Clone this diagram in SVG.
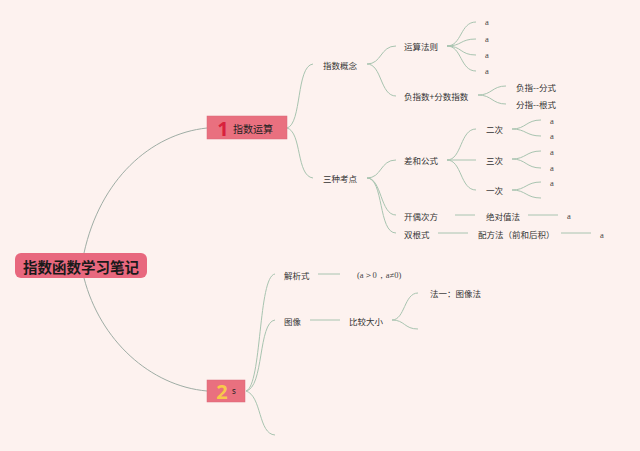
<svg xmlns="http://www.w3.org/2000/svg" width="640" height="451" viewBox="0 0 640 451">
<style>
.t{font-family:"Noto Sans CJK SC","Noto Sans",sans-serif;font-size:8.5px;fill:#333;dominant-baseline:central}
.s{font-family:"Liberation Serif",serif;font-size:8.5px;fill:#444;dominant-baseline:central}
.c{fill:none;stroke:#a8c4b0;stroke-width:1}
.r{fill:none;stroke:#9fada5;stroke-width:1}
</style>
<rect width="640" height="451" fill="#fdf2ef"/>
<g id="connectors">
<path class="r" d="M84,253 C100,180 150,134 207,128"/>
<path class="r" d="M84,278 C100,340 150,386 207,391"/>
<path class="c" d="M287,128 C302,124 296,66 313,64"/>
<path class="c" d="M287,128 C302,132 296,176 313,178"/>
<path class="c" d="M367,64 C382,64 380,46 396,46"/>
<path class="c" d="M367,64 C382,64 380,96 396,96"/>
<path class="c" d="M447,46 C462,46 460,22 476,22"/>
<path class="c" d="M447,46 C462,46 460,39 476,39"/>
<path class="c" d="M447,46 C462,46 460,55 476,55"/>
<path class="c" d="M447,46 C462,46 460,71 476,71"/>
<path class="c" d="M478,95 C492,95 492,86 506,86"/>
<path class="c" d="M478,95 C492,95 492,104 506,104"/>
<path class="c" d="M367,178 C382,178 380,160 396,160"/>
<path class="c" d="M367,178 C382,178 380,215 396,215"/>
<path class="c" d="M367,178 C384,178 378,233 396,233"/>
<path class="c" d="M447,160 C462,160 460,129 476,129"/>
<path class="c" d="M447,160 L476,160"/>
<path class="c" d="M447,160 C462,160 460,190 476,190"/>
<path class="c" d="M512,129 C526,129 526,120 541,120"/>
<path class="c" d="M512,129 C526,129 526,136 541,136"/>
<path class="c" d="M512,159 C526,159 526,151 541,151"/>
<path class="c" d="M512,159 C526,159 526,168 541,168"/>
<path class="c" d="M512,190 C526,190 526,182 541,182"/>
<path class="c" d="M512,190 C526,190 526,198 541,198"/>
<path class="c" d="M455,215 L475,215"/>
<path class="c" d="M528,215 L558,215"/>
<path class="c" d="M438,233 L468,233"/>
<path class="c" d="M561,233 L591,233"/>
<path class="c" d="M246,391 C262,386 258,276 275,274"/>
<path class="c" d="M246,391 C264,388 258,322 275,320"/>
<path class="c" d="M246,391 C262,396 258,434 275,435"/>
<path class="c" d="M318,274 L340,274"/>
<path class="c" d="M310,320 L340,320"/>
<path class="c" d="M392,320 C405,320 404,293 418,293"/>
<path class="c" d="M392,320 C405,320 404,329 418,329"/>
</g>
<g id="root">
<rect x="15" y="253" width="132" height="25" rx="6" fill="#e8687e"/>
<text x="81" y="266" text-anchor="middle" font-family="Noto Sans CJK SC,sans-serif" font-size="14.5" font-weight="bold" fill="#1a1a1a" dominant-baseline="central">指数函数学习笔记</text>
</g>
<g id="n1">
<rect x="207" y="116" width="80" height="23" fill="#e9707f" stroke="#d9677a" stroke-width="0.5"/>
<text x="223" y="128" text-anchor="middle" font-family="Noto Sans,sans-serif" font-size="20" font-weight="bold" fill="#d8213c" dominant-baseline="central">1</text>
<text x="233" y="128" font-family="Noto Sans CJK SC,sans-serif" font-size="10" fill="#222" dominant-baseline="central">指数运算</text>
</g>
<g id="n2">
<rect x="207" y="380" width="38" height="22" fill="#e9707f" stroke="#d9677a" stroke-width="0.5"/>
<text x="222" y="391" text-anchor="middle" font-family="Noto Sans,sans-serif" font-size="20" font-weight="bold" fill="#f7c94a" dominant-baseline="central">2</text>
<text x="232" y="390" font-family="Noto Sans,sans-serif" font-size="8" fill="#222" dominant-baseline="central">s</text>
</g>
<g id="n-zsgn"><text class="t" x="323" y="65">指数概念</text></g>
<g id="n-szkd"><text class="t" x="323" y="178">三种考点</text></g>
<g id="n-ysfz"><text class="t" x="404" y="46">运算法则</text></g>
<g id="n-fzs"><text class="t" x="404" y="96">负指数+分数指数</text></g>
<g id="n-a1"><text class="s" x="485" y="22">a</text></g>
<g id="n-a2"><text class="s" x="485" y="39">a</text></g>
<g id="n-a3"><text class="s" x="485" y="55">a</text></g>
<g id="n-a4"><text class="s" x="485" y="71">a</text></g>
<g id="n-fzfs"><text class="t" x="516" y="87">负指--分式</text></g>
<g id="n-fzgs"><text class="t" x="516" y="104">分指--根式</text></g>
<g id="n-chgs"><text class="t" x="404" y="160">差和公式</text></g>
<g id="n-kocf"><text class="t" x="404" y="216">开偶次方</text></g>
<g id="n-sgs"><text class="t" x="404" y="234">双根式</text></g>
<g id="n-ec"><text class="t" x="486" y="129">二次</text></g>
<g id="n-sc"><text class="t" x="486" y="160">三次</text></g>
<g id="n-yc"><text class="t" x="486" y="190">一次</text></g>
<g id="n-a5"><text class="s" x="550" y="121">a</text></g>
<g id="n-a6"><text class="s" x="550" y="136">a</text></g>
<g id="n-a7"><text class="s" x="550" y="152">a</text></g>
<g id="n-a8"><text class="s" x="550" y="168">a</text></g>
<g id="n-a9"><text class="s" x="550" y="183">a</text></g>
<g id="n-jdz"><text class="t" x="486" y="216">绝对值法</text></g>
<g id="n-a10"><text class="s" x="567" y="216">a</text></g>
<g id="n-pff"><text class="t" x="478" y="234">配方法（前和后积）</text></g>
<g id="n-a11"><text class="s" x="600" y="235">a</text></g>
<g id="n-jxs"><text class="t" x="284" y="275">解析式</text></g>
<g id="n-cond"><text class="s" x="357" y="275">(a＞0，a≠0)</text></g>
<g id="n-tx"><text class="t" x="284" y="321">图像</text></g>
<g id="n-bjdx"><text class="t" x="349" y="321">比较大小</text></g>
<g id="n-fy"><text class="t" x="430" y="293">法一：图像法</text></g>
</svg>
